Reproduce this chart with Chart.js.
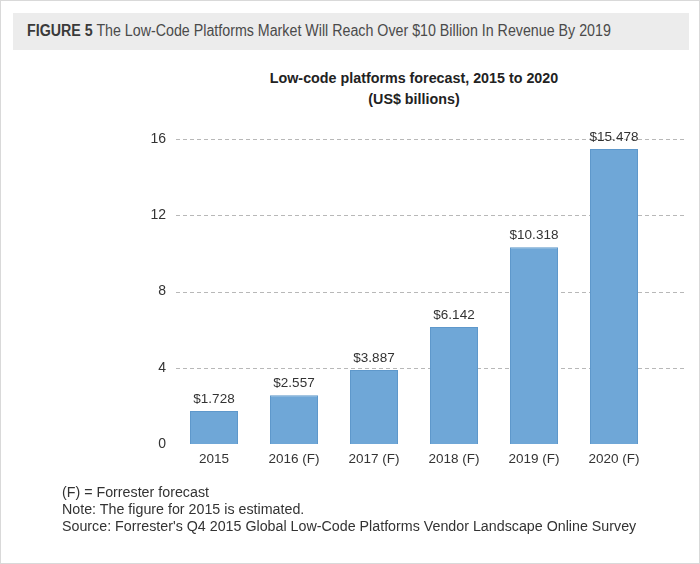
<!DOCTYPE html>
<html>
<head>
<meta charset="utf-8">
<script src="https://cdn.jsdelivr.net/npm/chart.js@4/dist/chart.umd.min.js"></script>
<style>
  html, body { margin: 0; padding: 0; background: #fff; }
  #wrap { position: relative; width: 700px; height: 564px; box-sizing: border-box; border: 1px solid #d9d9d9; overflow: hidden; }
  #band { position: absolute; left: 12px; top: 12px; width: 676px; height: 37px; background: #ececec; }
  #head { position: absolute; left: 26px; top: 21px; font-family: "Liberation Sans", Arial, sans-serif; font-size: 16px; color: #4a4a4a; white-space: nowrap; transform: scaleX(0.89); transform-origin: 0 0; }
  #head b { color: #3a3a3a; }
  #title { position: absolute; left: 173px; width: 480px; top: 67px; text-align: center; font-family: "Liberation Sans", Arial, sans-serif; font-weight: bold; font-size: 14.3px; line-height: 21px; color: #222; }
  #foot { position: absolute; left: 61px; top: 482px; font-family: "Liberation Sans", Arial, sans-serif; font-size: 15.5px; line-height: 17px; color: #333; white-space: nowrap; transform: scaleX(0.92); transform-origin: 0 0; }
  canvas { position: absolute; left: 0; top: 0; }
</style>
</head>
<body>
<div id="wrap">
  <div id="band"></div>
  <div id="head"><b>FIGURE 5</b> The Low-Code Platforms Market Will Reach Over $10 Billion In Revenue By 2019</div>
  <div id="title">Low-code platforms forecast, 2015 to 2020<br>(US$ billions)</div>
  <canvas id="c" width="700" height="564"></canvas>
  <div id="foot">(F) = Forrester forecast<br>Note: The figure for 2015 is estimated.<br>Source: Forrester's Q4 2015 Global Low-Code Platforms Vendor Landscape Online Survey</div>
</div>
<script>
const categories = ["2015", "2016 (F)", "2017 (F)", "2018 (F)", "2019 (F)", "2020 (F)"];
const revenue = [1.728, 2.557, 3.887, 6.142, 10.318, 15.478];
const valueLabels = ["$1.728", "$2.557", "$3.887", "$6.142", "$10.318", "$15.478"];
const yTicks = [0, 4, 8, 12, 16];

const dashedGrid = {
  id: 'dashedGrid',
  beforeDatasetsDraw(chart) {
    const ctx = chart.ctx, y = chart.scales.y, a = chart.chartArea;
    ctx.save();
    ctx.strokeStyle = '#b8b8b8';
    ctx.lineWidth = 1;
    ctx.setLineDash([4, 3]);
    yTicks.forEach(v => {
      if (v === 0) return;
      const py = Math.round(y.getPixelForValue(v)) + 0.5;
      ctx.beginPath();
      ctx.moveTo(a.left + 2, py);
      ctx.lineTo(a.right + 31, py);
      ctx.stroke();
    });
    ctx.restore();
  }
};

const barLabels = {
  id: 'barLabels',
  afterDatasetsDraw(chart) {
    const ctx = chart.ctx;
    const meta = chart.getDatasetMeta(0);
    ctx.save();
    ctx.fillStyle = '#333';
    ctx.font = '13.5px "Liberation Sans", Arial, sans-serif';
    ctx.textAlign = 'center';
    ctx.textBaseline = 'alphabetic';
    meta.data.forEach((bar, i) => {
      ctx.fillText(valueLabels[i], bar.x, bar.y - 8);
    });
    ctx.restore();
  }
};

new Chart(document.getElementById('c'), {
  type: 'bar',
  data: {
    labels: categories,
    datasets: [{
      data: revenue,
      backgroundColor: '#6fa7d7',
      borderColor: '#5e98cb',
      borderWidth: 1,
      barPercentage: 0.6,
      categoryPercentage: 1.0
    }]
  },
  options: {
    responsive: false,
    animation: false,
    devicePixelRatio: 1,
    layout: { padding: { left: 0, right: 47, top: 138, bottom: 96 } },
    plugins: { legend: { display: false }, title: { display: false }, tooltip: { enabled: false } },
    scales: {
      x: {
        grid: { display: false, drawTicks: false },
        border: { display: false },
        ticks: { color: '#333', font: { family: '"Liberation Sans", Arial, sans-serif', size: 13.5 }, padding: 7, maxRotation: 0 },
        afterFit(s) { s.height = 25; }
      },
      y: {
        min: 0, max: 16,
        afterBuildTicks(s) { s.ticks = yTicks.map(v => ({ value: v })); },
        grid: { display: false, drawTicks: false },
        border: { display: false },
        ticks: { color: '#333', font: { family: '"Liberation Sans", Arial, sans-serif', size: 14 }, padding: 8 },
        afterFit(s) { s.width = 173; }
      }
    }
  },
  plugins: [dashedGrid, barLabels]
});
</script>
</body>
</html>
